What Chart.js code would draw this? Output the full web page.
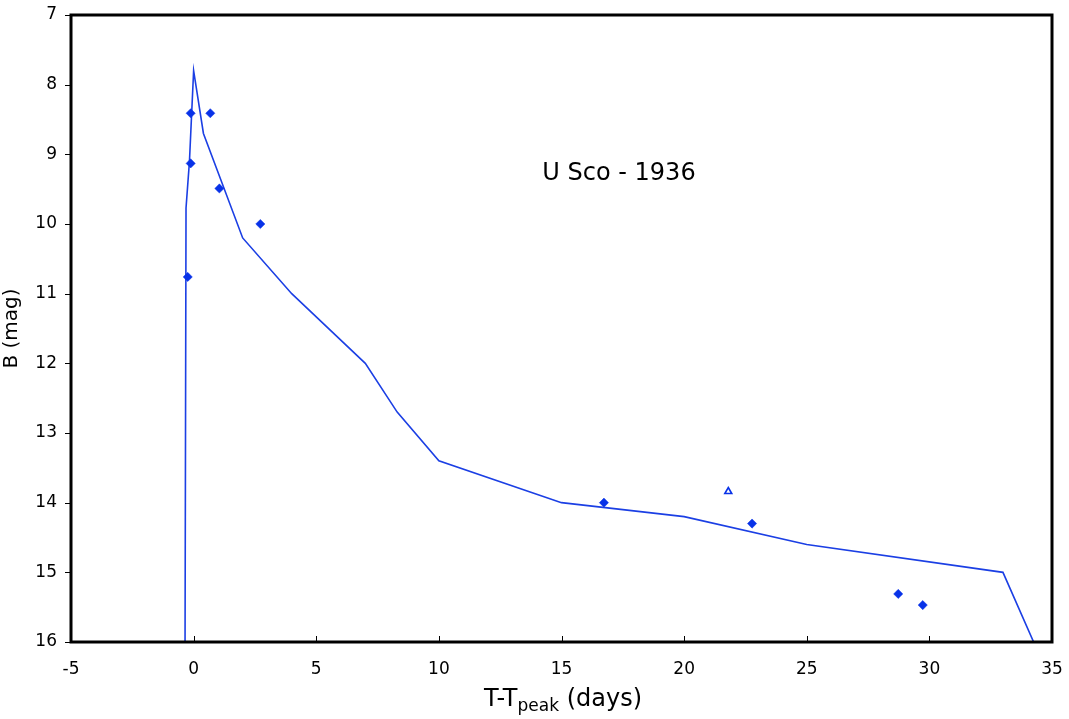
<!DOCTYPE html>
<html><head><meta charset="utf-8">
<script src="https://cdn.jsdelivr.net/npm/chart.js@4.4.1/dist/chart.umd.min.js"></script>
<style>html,body{margin:0;padding:0;background:#fff}#wrap{width:1069px;height:719px}</style>
</head><body><div id="wrap"><canvas id="c" width="1069" height="719"></canvas></div>
<script>
// Template (model) light curve
const curveT = [-0.35, -0.31, -0.17, 0.0, 0.4, 2.0, 4.0, 7.0, 8.3, 10.0, 15.0, 20.0, 25.0, 33.0, 34.35];
const curveB = [16.0, 9.77, 9.1, 7.8, 8.7, 10.2, 11.0, 12.0, 12.7, 13.4, 14.0, 14.2, 14.6, 15.0, 16.08];
// Observations (filled diamonds)
const obsT = [-0.12, 0.68, -0.12, 1.05, 2.72, -0.24, 16.73, 22.77, 28.73, 29.73];
const obsB = [8.41, 8.41, 9.13, 9.49, 10.0, 10.76, 14.0, 14.3, 15.31, 15.47];
// Upper-limit style observation (open triangle)
const limT = [21.8];
const limB = [13.84];
const xTicks = [-5, 0, 5, 10, 15, 20, 25, 30, 35];
const yTicks = [7, 8, 9, 10, 11, 12, 13, 14, 15, 16];
const chartTitle = 'U Sco - 1936';

const toXY = (xs, ys) => xs.map((x, i) => ({x: x, y: ys[i]}));
const FONT = 'DejaVu Sans, Verdana, sans-serif';

const framePlugin = {
  id: 'frame',
  afterDraw(chart) {
    const ctx = chart.ctx, a = chart.chartArea;
    const xs = chart.scales.x, ys = chart.scales.y;
    ctx.save();
    // inward x ticks
    ctx.strokeStyle = '#000'; ctx.lineWidth = 1;
    xTicks.forEach(v => {
      const px = Math.round(xs.getPixelForValue(v)) + 0.5;
      ctx.beginPath(); ctx.moveTo(px, a.bottom); ctx.lineTo(px, a.bottom - 6); ctx.stroke();
    });
    // outward y ticks
    yTicks.forEach(v => {
      const py = Math.round(ys.getPixelForValue(v)) + 0.5;
      ctx.beginPath(); ctx.moveTo(a.left, py); ctx.lineTo(a.left - 6, py); ctx.stroke();
    });
    // frame
    ctx.lineWidth = 3;
    ctx.strokeRect(a.left, a.top, a.right - a.left, a.bottom - a.top);
    // title inside plot
    ctx.fillStyle = '#000';
    ctx.font = '24px ' + FONT;
    ctx.textAlign = 'center'; ctx.textBaseline = 'alphabetic';
    ctx.fillText(chartTitle, a.left + 548, a.top + 165);
    // x-axis title with subscript
    const cx = (a.left + a.right) / 2 + 1.5;
    const base = 706;
    const p1 = 'T-T', sub = 'peak', p2 = ' (days)';
    ctx.font = '24px ' + FONT; const w1 = ctx.measureText(p1).width, w3 = ctx.measureText(p2).width;
    ctx.font = '17px ' + FONT; const w2 = ctx.measureText(sub).width;
    let x0 = cx - (w1 + w2 + w3) / 2;
    ctx.textAlign = 'left';
    ctx.font = '24px ' + FONT; ctx.fillText(p1, x0, base);
    ctx.font = '17px ' + FONT; ctx.fillText(sub, x0 + w1, base + 5);
    ctx.font = '24px ' + FONT; ctx.fillText(p2, x0 + w1 + w2, base);
    ctx.restore();
  }
};

new Chart(document.getElementById('c'), {
  type: 'scatter',
  data: {
    datasets: [
      {
        type: 'line', data: toXY(curveT, curveB), borderColor: '#1b3fe4', borderWidth: 1.6,
        pointRadius: 0, fill: false, tension: 0, showLine: true, order: 3
      },
      {
        data: toXY(obsT, obsB), pointStyle: 'rectRot', pointRadius: 4.6,
        backgroundColor: '#0832e8', borderColor: '#0832e8', borderWidth: 0.5, order: 1
      },
      {
        data: toXY(limT, limB), pointStyle: 'triangle', pointRadius: 4,
        backgroundColor: '#ffffff', borderColor: '#0832e8', borderWidth: 1.6, order: 2
      }
    ]
  },
  options: {
    responsive: false, animation: false, devicePixelRatio: 1,
    layout: { padding: { left: 0, right: 17, top: 15, bottom: 0 } },
    plugins: { legend: { display: false }, tooltip: { enabled: false } },
    scales: {
      x: {
        type: 'linear', min: -5, max: 35,
        afterBuildTicks: s => { s.ticks = xTicks.map(v => ({value: v})); },
        afterFit: s => { s.height = 77; s.paddingLeft = 0; s.paddingRight = 0; },
        grid: { display: false, drawTicks: false },
        border: { display: false },
        ticks: { color: '#000', font: { family: FONT, size: 17 }, padding: 17, maxRotation: 0 }
      },
      y: {
        type: 'linear', min: 7, max: 16, reverse: true,
        afterBuildTicks: s => { s.ticks = yTicks.map(v => ({value: v})); },
        afterFit: s => { s.width = 71; s.paddingTop = 0; s.paddingBottom = 0; },
        grid: { display: false, drawTicks: false },
        border: { display: false },
        ticks: { color: '#000', font: { family: FONT, size: 17 }, padding: 14 },
        title: { display: true, text: 'B (mag)', color: '#000', font: { family: FONT, size: 20 }, padding: { top: 0, bottom: 4 } }
      }
    }
  },
  plugins: [framePlugin]
});
</script></body></html>
